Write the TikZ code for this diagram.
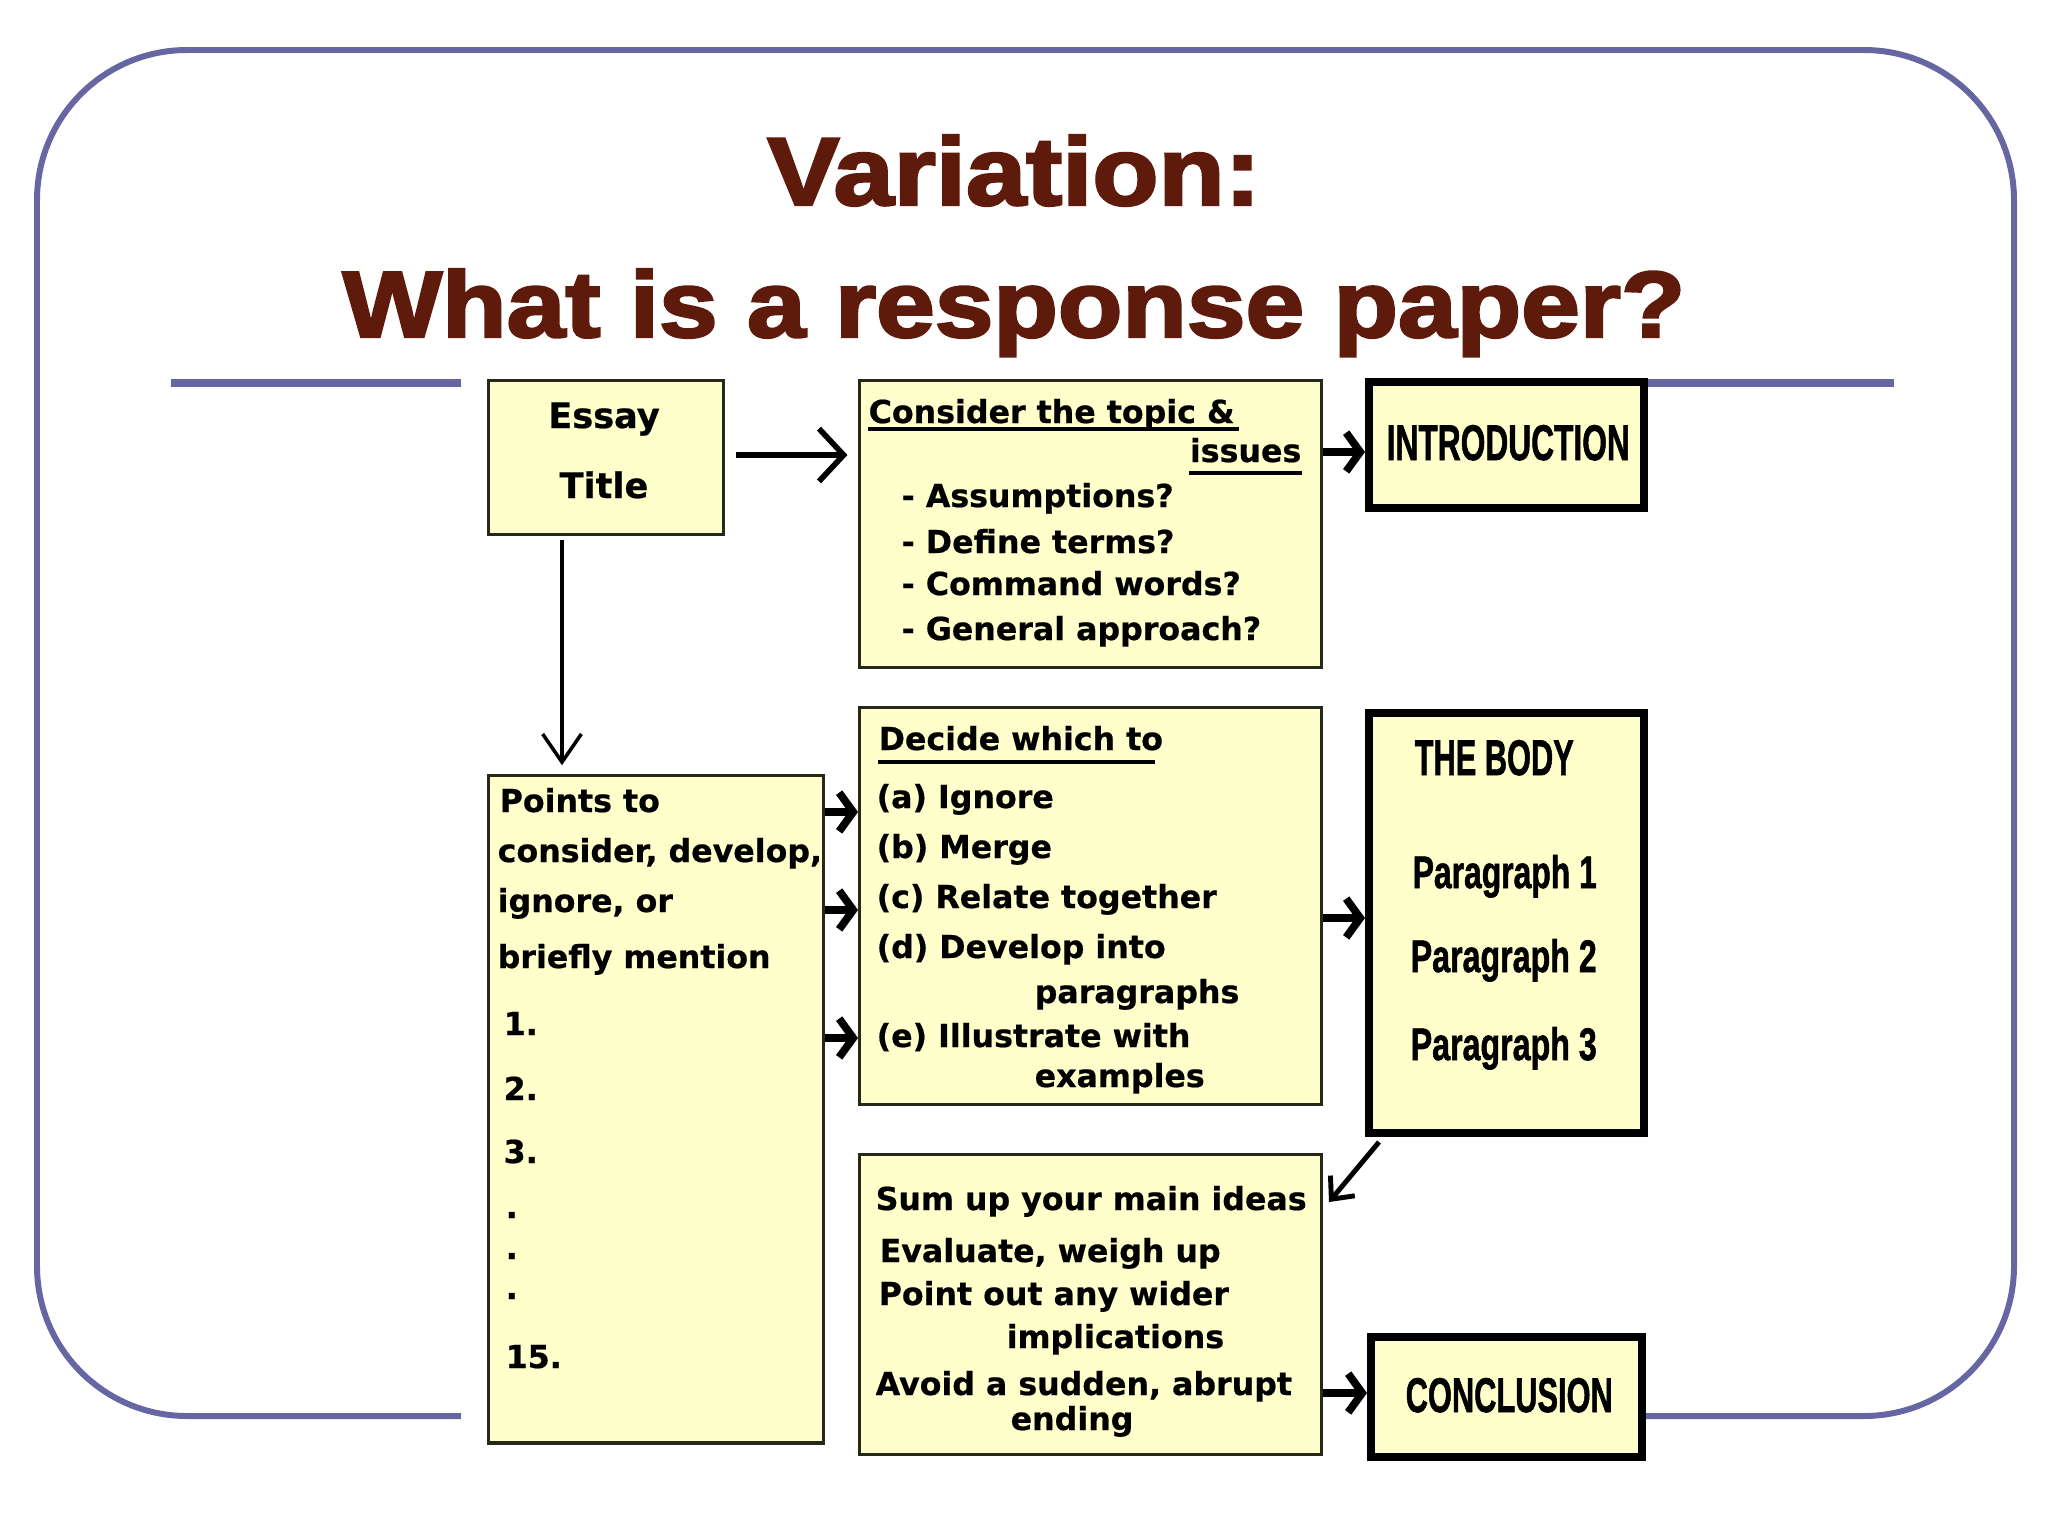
\documentclass[tikz,border=0pt]{standalone}
\usepackage{fontspec}
\usepackage{graphicx}
\usetikzlibrary{arrows.meta}
\newfontfamily\titlefont{Liberation Sans}[BoldFeatures={FakeBold=2.5}]
\newfontfamily\dvb{DejaVu Sans}[BoldFeatures={FakeBold=0.6}]
\newfontfamily\condfont{Liberation Sans}[BoldFeatures={FakeBold=1.5}]
\definecolor{framecol}{RGB}{102,102,162}
\definecolor{titlecol}{RGB}{94,26,10}
\definecolor{boxfill}{RGB}{255,255,204}
\definecolor{boxline}{RGB}{40,40,25}
\begin{document}
\begin{tikzpicture}[x=0.01cm,y=-0.01cm,
  frame/.style={draw=framecol, line width=1.7pt},
  thinbox/.style={draw=boxline, fill=boxfill, line width=0.9pt, inner sep=0pt, anchor=north west},
  thickbox/.style={draw=black, fill=boxfill, line width=2.3pt, inner sep=0pt, anchor=north west},
  dtext/.style={anchor=base west, inner sep=0pt, font=\dvb\bfseries\fontsize{9}{10}\selectfont},
  etext/.style={anchor=base, inner sep=0pt, font=\dvb\bfseries\fontsize{10}{11}\selectfont},
  ctext/.style={anchor=base west, inner sep=0pt, font=\condfont\bfseries},
  uline/.style={line width=1pt},
  bigopen/.style={line width=1.6pt, -{Straight Barb[length=7pt,width=15pt]}},
  vopen/.style={line width=1pt, -{Straight Barb[length=8pt,width=11pt]}},
  small/.style={line width=2.2pt, -{Straight Barb[length=4pt,width=11pt]}},
  diag/.style={line width=1.4pt, -{Straight Barb[length=5pt,width=9pt]}}
]
\useasboundingbox (0,0) rectangle (2048,1536);
\fill[white] (0,0) rectangle (2048,1536);

% slide frame and rule
\draw[frame, rounded corners=1.5cm] (37,50) rectangle (2014,1416);
\draw[draw=framecol, line width=2.2pt] (171,383) -- (1894,383);
\fill[white] (461,370) rectangle (1642,1495);

% title
\node[anchor=base, inner sep=0pt, text=titlecol, font=\titlefont\bfseries] (title1) at (1014,205) {\resizebox{4.93cm}{0.70cm}{Variation:}};
\node[anchor=base, inner sep=0pt, text=titlecol, font=\titlefont\bfseries] (title2) at (1014,337) {\resizebox{13.42cm}{0.68cm}{What is a response paper?}};

% boxes
\node[thinbox, minimum width=2.35cm, minimum height=1.54cm] (essay) at (487,379) {};
\node[thinbox, minimum width=4.62cm, minimum height=2.87cm] (consider) at (858,379) {};
\node[thickbox, minimum width=2.75cm, minimum height=1.26cm] (intro) at (1365,378) {};
\node[thinbox, minimum width=3.35cm, minimum height=6.67cm] (points) at (487,774) {};
\node[thinbox, minimum width=4.62cm, minimum height=3.97cm] (decide) at (858,706) {};
\node[thickbox, minimum width=2.75cm, minimum height=4.20cm] (body) at (1365,709) {};
\node[thinbox, minimum width=4.62cm, minimum height=3.00cm] (sum) at (858,1153) {};
\node[thickbox, minimum width=2.71cm, minimum height=1.20cm] (concl) at (1367,1333) {};

% essay title
\node[etext] (essayt1) at (604,428) {Essay};
\node[etext] (essayt2) at (604,498) {Title};

% consider
\node[dtext] (c1) at (868,423) {Consider the topic \&};
\node[dtext, anchor=base east] (c2) at (1302,462) {issues};
\node[dtext] (c3) at (901,507) {- Assumptions?};
\node[dtext] (c4) at (901,553) {- Define terms?};
\node[dtext] (c5) at (901,595) {- Command words?};
\node[dtext] (c6) at (901,640) {- General approach?};
\draw[uline] (c1.base west |- 0,429) -- (1239,429);
\draw[uline] (c2.base west |- 0,473) -- (c2.base east |- 0,473);

% intro text
\node[ctext] (introtxt) at (1386,460) {\resizebox{2.43cm}{0.35cm}{INTRODUCTION}};

% points
\node[dtext] (p1) at (499,812) {Points to};
\node[dtext] (p2) at (497,862) {consider, develop,};
\node[dtext] (p3) at (497,912) {ignore, or};
\node[dtext] (p4) at (497,968) {briefly mention};
\node[dtext] (p5) at (503,1035) {1.};
\node[dtext] (p6) at (503,1100) {2.};
\node[dtext] (p7) at (503,1163) {3.};
\node[dtext] (p8) at (505,1218) {.};
\node[dtext] (p9) at (505,1259) {.};
\node[dtext] (p10) at (505,1299) {.};
\node[dtext] (p11) at (505,1368) {15.};

% decide
\node[dtext] (d1t) at (878,750) {Decide which to};
\draw[uline] (d1t.base west |- 0,762) -- (1155,762);
\node[dtext] (d2t) at (876,808) {(a) Ignore};
\node[dtext] (d3t) at (876,858) {(b) Merge};
\node[dtext] (d4t) at (876,908) {(c) Relate together};
\node[dtext] (d5t) at (876,958) {(d) Develop into};
\node[dtext] (d6t) at (1034,1003) {paragraphs};
\node[dtext] (d7t) at (876,1047) {(e) Illustrate with};
\node[dtext] (d8t) at (1034,1087) {examples};

% body
\node[ctext] (b1) at (1414,775) {\resizebox{1.59cm}{0.35cm}{THE BODY}};
\node[ctext] (b2) at (1412,888) {\resizebox{1.84cm}{0.33cm}{Paragraph 1}};
\node[ctext] (b3) at (1410,972) {\resizebox{1.86cm}{0.33cm}{Paragraph 2}};
\node[ctext] (b4) at (1410,1060) {\resizebox{1.86cm}{0.33cm}{Paragraph 3}};

% sum
\node[dtext] (s1) at (875,1210) {Sum up your main ideas};
\node[dtext] (s2) at (879,1262) {Evaluate, weigh up};
\node[dtext] (s3) at (878,1305) {Point out any wider};
\node[dtext] (s4) at (1006,1348) {implications};
\node[dtext] (s5) at (875,1395) {Avoid a sudden, abrupt};
\node[dtext] (s6) at (1010,1430) {ending};

% conclusion
\node[ctext] (concltxt) at (1405,1412) {\resizebox{2.07cm}{0.34cm}{CONCLUSION}};

% connectors
\coordinate (yA) at (0,455);
\draw[bigopen, shorten <=3pt, shorten >=3pt] (essay.east |- yA) -- (consider.west |- yA);
\coordinate (yB) at (0,452);
\draw[small] (consider.east |- yB) -- (intro.west |- yB);
\coordinate (vx) at (562,0);
\draw[vopen, shorten <=1pt, shorten >=2.5pt] (vx |- essay.south) -- (vx |- points.north);
\coordinate (r1) at (0,812);
\coordinate (r2) at (0,910);
\coordinate (r3) at (0,1038);
\draw[small] (points.east |- r1) -- (decide.west |- r1);
\draw[small] (points.east |- r2) -- (decide.west |- r2);
\draw[small] (points.east |- r3) -- (decide.west |- r3);
\coordinate (yC) at (0,918);
\draw[small] (decide.east |- yC) -- (body.west |- yC);
\coordinate (dg1) at (1379,1142);
\coordinate (dg2) at (1329,1202);
\draw[diag] (dg1) -- (dg2);
\coordinate (yD) at (0,1393);
\draw[small] (sum.east |- yD) -- (concl.west |- yD);
\end{tikzpicture}
\end{document}
